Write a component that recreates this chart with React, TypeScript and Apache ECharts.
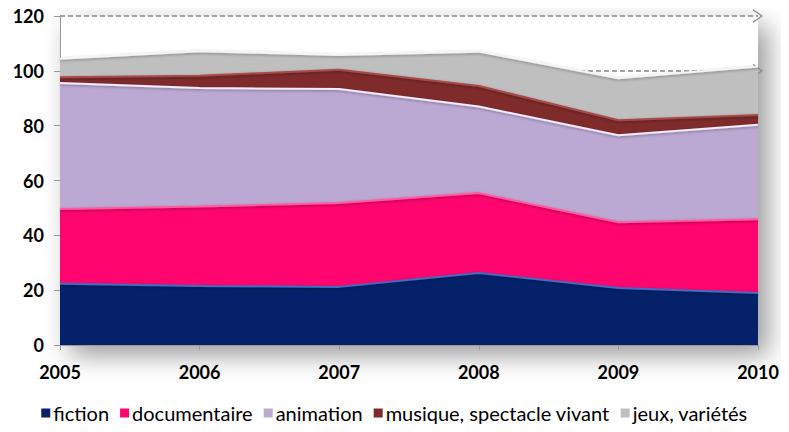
import React, { useEffect, useRef } from "react";
import * as echarts from "echarts";

const years = ["2005", "2006", "2007", "2008", "2009", "2010"];
const fiction = [22.3, 21.5, 21.2, 26.3, 20.8, 19.0];
const documentaire = [27.3, 29.0, 30.6, 29.1, 24.0, 26.9];
const animation = [46.0, 43.2, 41.6, 31.6, 31.7, 34.4];
const musique = [2.1, 4.5, 7.0, 7.5, 5.5, 3.6];
const jeux = [6.7, 8.9, 5.4, 12.5, 15.3, 17.7];
const arrowLevels = [100, 120];

const seriesDefs = [
  { name: "fiction", data: fiction, color: "#04216a", edge: "#3f6cc4" },
  { name: "documentaire", data: documentaire, color: "#ff056f", edge: "#ff5aa0" },
  { name: "animation", data: animation, color: "#bba9d3", edge: "#f2eafa" },
  { name: "musique, spectacle vivant", data: musique, color: "#7f2b2b", edge: "#a84a4a" },
  { name: "jeux, variétés", data: jeux, color: "#bfbfbf", edge: "#f4f4f4" },
];

export default function App() {
  const ref = useRef<HTMLDivElement>(null);
  useEffect(() => {
    const chart = echarts.init(ref.current!, undefined, { renderer: "svg" });
    const series: any[] = seriesDefs.map((s, i) => ({
      name: s.name,
      type: "line",
      stack: "total",
      data: s.data,
      symbol: "none",
      z: 3,
      itemStyle: { color: s.color },
      lineStyle: { color: s.edge, width: 2, shadowColor: "rgba(0,0,0,0.35)", shadowBlur: 3, shadowOffsetY: 1 },
      areaStyle: { color: s.color, opacity: 1 },
      markLine:
        i === 0
          ? {
              z: 1,
              silent: true,
              symbol: ["none", "path://M0,10L5,0L10,10L9,10L5,2L1,10Z"],
              symbolSize: [14, 10],
              label: { show: false },
              lineStyle: { color: "#888888", type: [5, 3], width: 1.5 },
              data: arrowLevels.map((v) => ({ yAxis: v })),
            }
          : undefined,
    }));
    chart.setOption({
      animation: false,
      backgroundColor: "#ffffff",
      textStyle: { fontFamily: "Lato" },
      grid: {
        left: 60,
        right: 31,
        top: 16,
        bottom: 87,
        show: true,
        backgroundColor: "#ffffff",
        borderWidth: 0,
        shadowColor: "rgba(0,0,0,0.4)",
        shadowBlur: 26,
        shadowOffsetX: 10,
        shadowOffsetY: 10,
        z: 0,
      },
      legend: {
        bottom: 4,
        left: "center",
        icon: "rect",
        itemWidth: 9,
        itemHeight: 9,
        itemGap: 11,
        textStyle: { fontSize: 20, color: "#000", fontFamily: "Lato", padding: [0, 0, 0, -2] },
        data: seriesDefs.map((s) => s.name),
      },
      xAxis: {
        type: "category",
        data: years,
        boundaryGap: false,
        axisLine: { show: true, lineStyle: { color: "#999" } },
        axisTick: { show: true, length: 5, lineStyle: { color: "#999" } },
        axisLabel: { color: "#000", fontWeight: "bold", fontSize: 18, margin: 18, fontFamily: "Lato" },
      },
      yAxis: {
        type: "value",
        min: 0,
        max: 120,
        interval: 20,
        axisLine: { show: true, lineStyle: { color: "#999" } },
        axisTick: { show: true, length: 6, lineStyle: { color: "#999" } },
        splitLine: { show: false },
        axisLabel: { color: "#000", fontWeight: "bold", fontSize: 18, margin: 16, fontFamily: "Lato" },
      },
      series,
    });
    return () => chart.dispose();
  }, []);
  return <div ref={ref} style={{ width: 789, height: 432, margin: -8 }} />;
}
